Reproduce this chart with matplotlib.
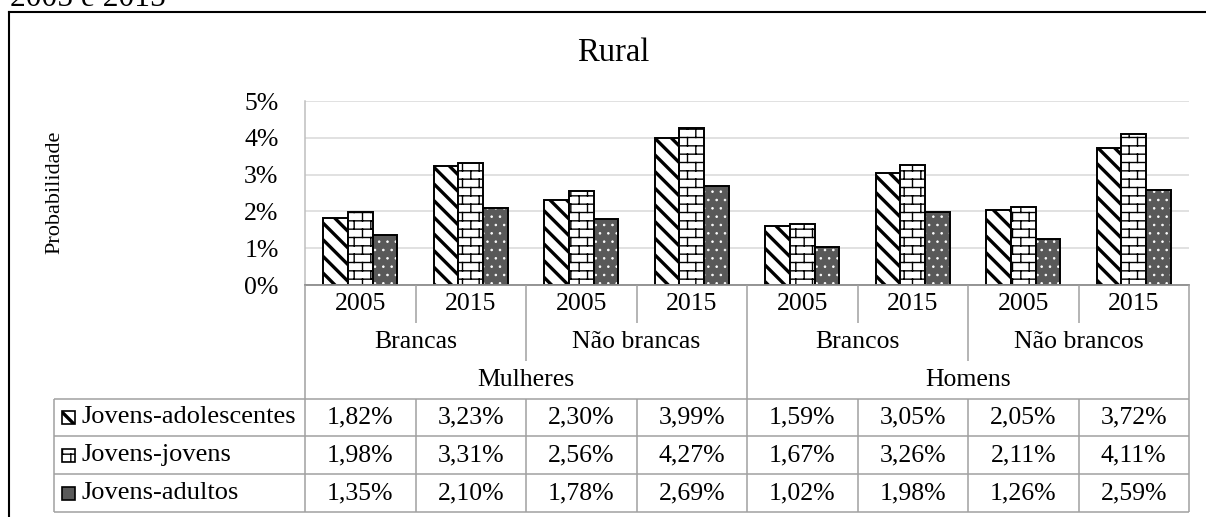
import warnings
import numpy as np
import matplotlib
matplotlib.use('Agg')
import matplotlib.pyplot as plt
from matplotlib import hatch as mhatch
from matplotlib.path import Path
from matplotlib.patches import Rectangle
from matplotlib.lines import Line2D

warnings.filterwarnings('ignore')

# data
years = ['2005', '2015'] * 4
groups = ['Brancas', 'Não brancas', 'Brancos', 'Não brancos']
sexes = ['Mulheres', 'Homens']
series = ['Jovens-adolescentes', 'Jovens-jovens', 'Jovens-adultos']
adolescentes = [1.82, 3.23, 2.30, 3.99, 1.59, 3.05, 2.05, 3.72]
jovens = [1.98, 3.31, 2.56, 4.27, 1.67, 3.26, 2.11, 4.11]
adultos = [1.35, 2.10, 1.78, 2.69, 1.02, 1.98, 1.26, 2.59]
values = [adolescentes, jovens, adultos]
yticks = [0, 1, 2, 3, 4, 5]


class BrickHatch(mhatch.HatchPatternBase):
    # brick pattern, 'b' in the hatch string
    def __init__(self, hatch, density):
        rows = int(hatch.count('b') * density)
        segs = []
        if rows:
            h = 1.0 / rows
            per = max(rows // 2, 1)
            w = 1.0 / per
            for r in range(rows):
                y = (r + 0.5) * h
                segs.append(((0, y), (1, y)))
                off = 0.25 * w if r % 2 == 0 else 0.75 * w
                top = y + h
                for c in range(per):
                    xx = off + c * w
                    if top <= 1:
                        segs.append(((xx, y), (xx, top)))
                    else:
                        segs.append(((xx, y), (xx, 1)))
                        segs.append(((xx, 0), (xx, top - 1)))
        self.segs = segs
        self.num_vertices = 2 * len(segs)

    def set_vertices_and_codes(self, vertices, codes):
        vertices[:] = np.array(self.segs, dtype=float).reshape(-1, 2)
        codes[0::2] = Path.MOVETO
        codes[1::2] = Path.LINETO


mhatch._hatch_types.append(BrickHatch)

plt.rcParams['font.family'] = ['Liberation Serif', 'DejaVu Serif']

W, H = 1206, 517
fig = plt.figure(figsize=(W / 100, H / 100), dpi=100)


def fx(px):
    return px / W


def fy(py):
    return 1 - py / H


def hlw(p, lw):
    if hasattr(p, 'set_hatch_linewidth'):
        p.set_hatch_linewidth(lw)


DIAG_LW, BRICK_LW, DOT_LW = 2.4, 1.0, 0.6

ax = fig.add_axes([fx(305), fy(285), fx(1189) - fx(305), fy(101) - fy(285)])
x = np.arange(len(years))
bw = 0.2235
edge_lw = 1.4

with plt.rc_context({'hatch.linewidth': DIAG_LW}):
    bars = ax.bar(x - bw, adolescentes, bw, facecolor='white', edgecolor='black',
                  linewidth=edge_lw, hatch='\\\\', zorder=3)
for b in bars:
    hlw(b, DIAG_LW)
with plt.rc_context({'hatch.linewidth': BRICK_LW}):
    bars = ax.bar(x, jovens, bw, facecolor='white', edgecolor='black',
                  linewidth=edge_lw, hatch='bb', zorder=3)
for b in bars:
    hlw(b, BRICK_LW)
ax.bar(x + bw, adultos, bw, facecolor='#595959', edgecolor='none', linewidth=0, zorder=3)
with plt.rc_context({'hatch.linewidth': DOT_LW}):
    bars = ax.bar(x + bw, adultos, bw, facecolor='none', edgecolor='white',
                  linewidth=0, hatch='..', zorder=3.1)
for b in bars:
    hlw(b, DOT_LW)
ax.bar(x + bw, adultos, bw, facecolor='none', edgecolor='black', linewidth=edge_lw, zorder=3.2)

ax.set_xlim(-0.5, 7.5)
ax.set_ylim(0, 5)
ax.set_yticks(yticks)
ax.set_yticklabels([f'{t}%' for t in yticks])
ax.set_xticks([])
ax.tick_params(axis='y', length=0, pad=19, labelsize=18.5)
ax.yaxis.grid(True, color='#d9d9d9', lw=1.1)
ax.set_axisbelow(True)
for s in ['top', 'right']:
    ax.spines[s].set_visible(False)
ax.spines['left'].set_color('#bfbfbf')
ax.spines['left'].set_linewidth(1.1)
ax.spines['bottom'].set_color('#8c8c8c')
ax.spines['bottom'].set_linewidth(1.3)
ax.spines['bottom'].set_zorder(4)

# table under the plot
tab = fig.add_axes([fx(305), fy(512), fx(1189) - fx(305), fy(285) - fy(512)])
tab.set_xlim(-0.5, 7.5)
tab.set_ylim(0, 6)
tab.axis('off')
colw = 884 / 8
xl = -0.5 - (305 - 54) / colw
lc = '#a0a0a0'
tlw = 1.1


def seg(x0, x1, y0, y1):
    tab.plot([x0, x1], [y0, y1], color=lc, lw=tlw, clip_on=False, solid_capstyle='butt')


for yy in [0, 1, 2, 3]:
    seg(xl, 7.5, yy, yy)
seg(xl, xl, 0, 3)
seg(-0.5, -0.5, 0, 6)
seg(7.5, 7.5, 0, 6)
for k in range(7):
    b = k + 0.5
    bottom = 3 if k == 3 else (4 if k % 2 == 1 else 5)
    seg(b, b, 0, 3)
    seg(b, b, bottom, 6)

fs = 18.5
for k, yr in enumerate(years):
    tab.text(k, 5.5, yr, ha='center', va='center', fontsize=fs)
for j, g in enumerate(groups):
    tab.text(2 * j + 0.5, 4.5, g, ha='center', va='center', fontsize=fs)
for s, sx in enumerate(sexes):
    tab.text(4 * s + 1.5, 3.5, sx, ha='center', va='center', fontsize=fs)

mk_x = -0.5 - (305 - 62) / colw
mk_w = 13 / colw
mk_h = 13 / (227 / 6)
txt_x = -0.5 - (305 - 81) / colw
for i, (name, vals) in enumerate(zip(series, values)):
    yc = 2.5 - i
    tab.text(txt_x, yc, name, ha='left', va='center', fontsize=19)
    for k, v in enumerate(vals):
        tab.text(k, yc, f'{v:.2f}'.replace('.', ',') + '%', ha='center', va='center', fontsize=fs)
    r0 = (mk_x, yc - mk_h / 2)
    if i == 0:
        p = Rectangle(r0, mk_w, mk_h, facecolor='white', edgecolor='black', lw=1.2,
                      hatch='\\\\', clip_on=False)
        hlw(p, DIAG_LW)
        tab.add_patch(p)
    elif i == 1:
        p = Rectangle(r0, mk_w, mk_h, facecolor='white', edgecolor='black', lw=1.2,
                      hatch='bb', clip_on=False)
        hlw(p, BRICK_LW)
        tab.add_patch(p)
    else:
        tab.add_patch(Rectangle(r0, mk_w, mk_h, facecolor='#595959', edgecolor='black',
                                lw=1.2, clip_on=False))

# titles and frame
fig.text(fx(613), fy(61), 'Rural', ha='center', va='baseline', fontsize=23.5)
fig.text(fx(55), fy(192), 'Probabilidade', ha='center', va='center',
         rotation=90, fontsize=16)
fig.text(fx(10), fy(6), '2005 e 2015', ha='left', va='baseline', fontsize=22.7)
fig.add_artist(Line2D([fx(9), 1], [fy(12), fy(12)], color='black', lw=1.5,
                      transform=fig.transFigure))
fig.add_artist(Line2D([fx(9), fx(9)], [fy(12), 0], color='black', lw=1.5,
                      transform=fig.transFigure))

fig.savefig('out.png', dpi=100)
